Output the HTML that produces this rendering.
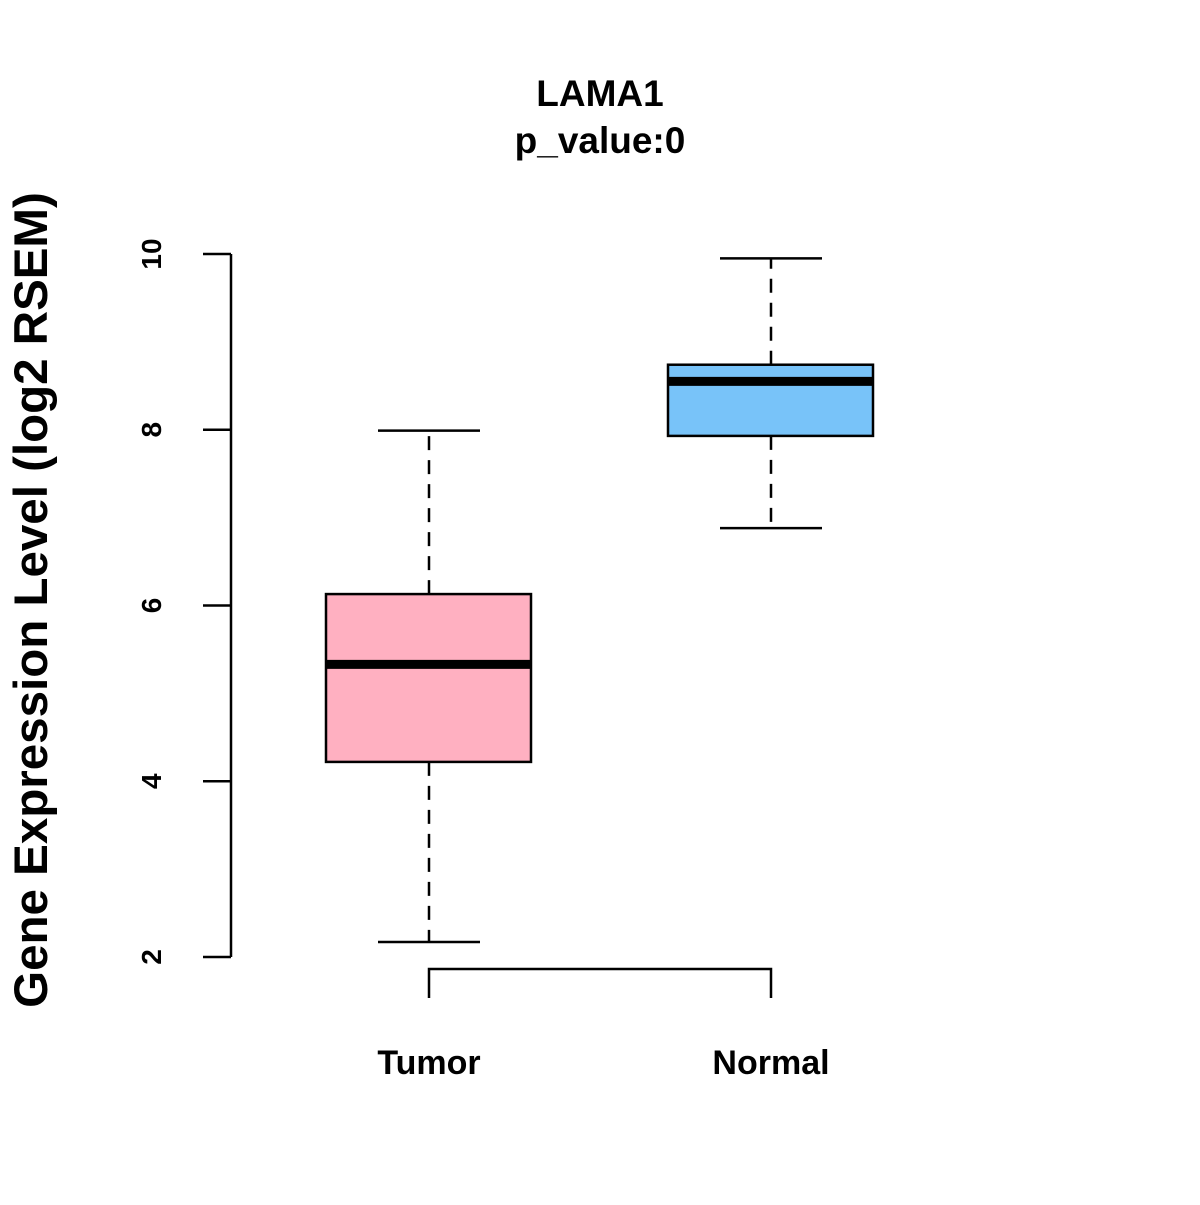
<!DOCTYPE html>
<html><head><meta charset="utf-8"><style>
html,body{margin:0;padding:0;background:#fff}
svg text{font-family:"Liberation Sans",Arial,sans-serif;font-weight:bold;fill:#000}
</style></head><body>
<svg id="chart" width="1200" height="1200" viewBox="0 0 1200 1200" xmlns="http://www.w3.org/2000/svg">
<text x="600" y="106" font-size="37" text-anchor="middle">LAMA1</text>
<text x="600" y="153" font-size="37" text-anchor="middle">p_value:0</text>
<text transform="translate(47,600) rotate(-90)" font-size="47.5" text-anchor="middle">Gene Expression Level (log2 RSEM)</text>
<g id="yaxis"></g>
<g id="boxes"></g>
</svg>
<script>
const categories = ["Tumor", "Normal"];
const whiskerLow = [2.17, 6.88];
const q1 = [4.22, 7.93];
const median = [5.33, 8.55];
const q3 = [6.13, 8.74];
const whiskerHigh = [7.99, 9.95];
const fills = ["#FFB0C1", "#78C3F9"];
const yTicks = [2, 4, 6, 8, 10];
const yTickLabels = ["2", "4", "6", "8", "10"];

const NS = "http://www.w3.org/2000/svg";
function y(v){ return 957 - (v - 2) * (703 / 8); }
function x(i){ return 429 + i * 342; }
function mk(tag, attrs, parent){
  const e = document.createElementNS(NS, tag);
  for (const k in attrs) e.setAttribute(k, attrs[k]);
  parent.appendChild(e); return e;
}
const ya = document.getElementById("yaxis");
const axisLine = mk("line", {x1:231, x2:231, y1:y(yTicks[0]), y2:y(yTicks[yTicks.length-1]), stroke:"#000", "stroke-width":2.5}, ya);


yTicks.forEach((t, i) => {
  const tk = mk("line", {x1:203, x2:231, y1:y(t), y2:y(t), stroke:"#000", "stroke-width":2.5}, ya);
  
  
  const lb = mk("text", {transform:`translate(161,${y(t)}) rotate(-90)`, "font-size":28, "text-anchor":"middle"}, ya);
  
  
  lb.textContent = yTickLabels[i];
});
const bx = document.getElementById("boxes");
const br = mk("path", {d:`M${x(0)},998 L${x(0)},969 L${x(1)},969 L${x(1)},998`, fill:"none", stroke:"#000", "stroke-width":2.5}, bx);


categories.forEach((c, i) => {
  const cx = x(i);
  const g = mk("g", {}, bx);
  
  
  const ws = {stroke:"#000", "stroke-width":2.5, "stroke-dasharray":"14,10"};
  mk("line", Object.assign({x1:cx, x2:cx, y1:y(q3[i]), y2:y(whiskerHigh[i])}, ws), g);
  mk("line", Object.assign({x1:cx, x2:cx, y1:y(q1[i]), y2:y(whiskerLow[i])}, ws), g);
  mk("line", {x1:cx-51, x2:cx+51, y1:y(whiskerHigh[i]), y2:y(whiskerHigh[i]), stroke:"#000", "stroke-width":2.5}, g);
  mk("line", {x1:cx-51, x2:cx+51, y1:y(whiskerLow[i]), y2:y(whiskerLow[i]), stroke:"#000", "stroke-width":2.5}, g);
  mk("rect", {x:cx-103, y:y(q3[i]), width:205, height:y(q1[i])-y(q3[i]), fill:fills[i], stroke:"#000", "stroke-width":2.5}, g);
  mk("line", {x1:cx-103, x2:cx+102, y1:y(median[i]), y2:y(median[i]), stroke:"#000", "stroke-width":9}, g);
  const lb = mk("text", {x:cx, y:1074, "font-size":34, "text-anchor":"middle"}, bx);
  
  
  lb.textContent = c;
});
</script>
</body></html>
